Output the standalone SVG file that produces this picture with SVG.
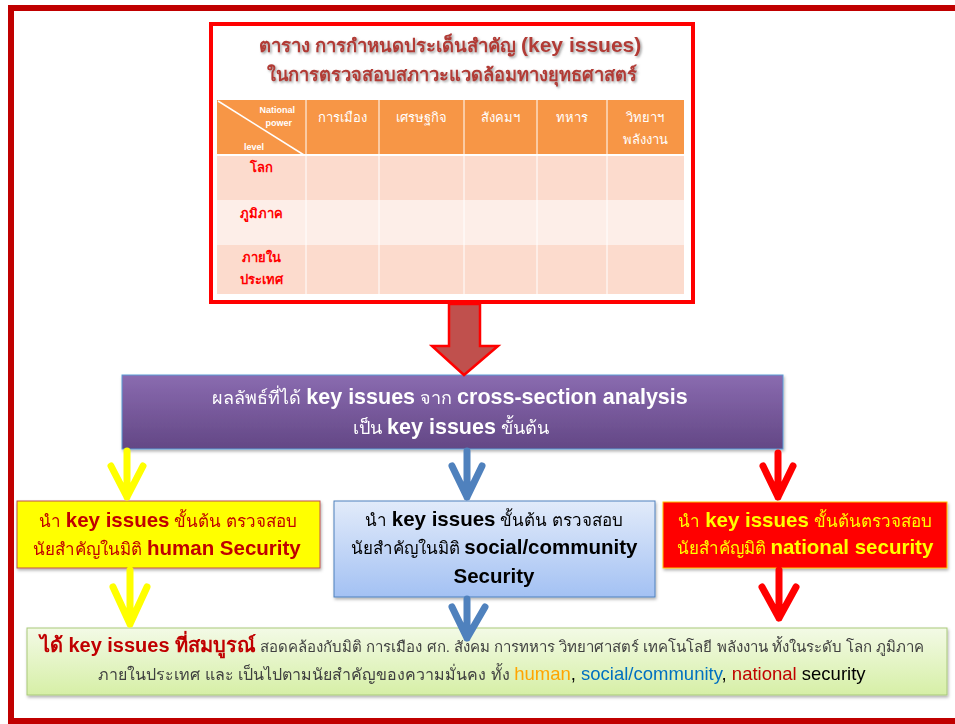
<svg xmlns="http://www.w3.org/2000/svg" width="955" height="724" viewBox="0 0 955 724">
<defs>
<style>
text{font-family:"Liberation Sans","Noto Sans","DejaVu Sans",sans-serif}
.hdr{fill:#ffffff;font-size:13px;text-anchor:middle}
.row{fill:#ff0000;font-size:13px;font-weight:bold;text-anchor:middle}
.sep{stroke:#ffffff;stroke-width:1}
.arr{fill:none;stroke-width:7;stroke-linecap:round;stroke-linejoin:round}
</style>
<filter id="ts" x="-5%" y="-20%" width="110%" height="150%">
<feDropShadow dx="1.5" dy="1.5" stdDeviation="0.8" flood-color="#777" flood-opacity="0.7"/>
</filter>
<filter id="bs" x="-5%" y="-10%" width="110%" height="130%">
<feDropShadow dx="1" dy="2" stdDeviation="1.5" flood-color="#000" flood-opacity="0.3"/>
</filter>
<linearGradient id="gp" x1="0" y1="0" x2="0" y2="1">
<stop offset="0" stop-color="#8A6BB0"/><stop offset="1" stop-color="#634785"/>
</linearGradient>
<linearGradient id="gb" x1="0" y1="0" x2="0" y2="1">
<stop offset="0" stop-color="#E2EBFA"/><stop offset="1" stop-color="#A3C1F3"/>
</linearGradient>
<linearGradient id="gg" x1="0" y1="0" x2="0" y2="1">
<stop offset="0" stop-color="#F3FAE6"/><stop offset="1" stop-color="#D6EFA6"/>
</linearGradient>
</defs>
<rect x="11" y="8" width="960" height="713" fill="#ffffff" stroke="#C00000" stroke-width="6"/>

<g id="table">
<rect x="211" y="24" width="482" height="278" fill="#ffffff" stroke="#ff0000" stroke-width="4"/>
<g filter="url(#ts)" fill="#B23B36" font-weight="bold" text-anchor="middle">
<text x="450" y="52" font-size="18.5">ตาราง การกำหนดประเด็นสำคัญ <tspan font-size="21">(key issues)</tspan></text>
<text x="452" y="81" font-size="18.3">ในการตรวจสอบสภาวะแวดล้อมทางยุทธศาสตร์</text>
</g>
<rect x="217" y="100" width="467" height="54" fill="#F79646"/>
<rect x="217" y="156" width="467" height="44" fill="#FCDBCD"/>
<rect x="217" y="200" width="467" height="45" fill="#FDEEE8"/>
<rect x="217" y="245" width="467" height="49" fill="#FCDBCD"/>
<line class="sep" x1="217" y1="155" x2="684" y2="155" stroke-width="2"/>
<line class="sep" x1="306" y1="100" x2="306" y2="294"/>
<line class="sep" x1="379" y1="100" x2="379" y2="294"/>
<line class="sep" x1="464" y1="100" x2="464" y2="294"/>
<line class="sep" x1="537" y1="100" x2="537" y2="294"/>
<line class="sep" x1="607" y1="100" x2="607" y2="294"/>
<line x1="218" y1="101" x2="304" y2="155" stroke="#ffffff" stroke-width="1.5"/>
<text x="295" y="113" fill="#ffffff" font-size="9" font-weight="bold" text-anchor="end">National</text>
<text x="292" y="126" fill="#ffffff" font-size="9" font-weight="bold" text-anchor="end">power</text>
<text x="254" y="150" fill="#ffffff" font-size="9" font-weight="bold" text-anchor="middle">level</text>
<text class="hdr" x="342" y="122">การเมือง</text>
<text class="hdr" x="421" y="122">เศรษฐกิจ</text>
<text class="hdr" x="500" y="122">สังคมฯ</text>
<text class="hdr" x="572" y="122">ทหาร</text>
<text class="hdr" x="645" y="122">วิทยาฯ</text>
<text class="hdr" x="645" y="144">พลังงาน</text>
<text class="row" x="261" y="172">โลก</text>
<text class="row" x="261" y="218">ภูมิภาค</text>
<text class="row" x="261" y="262">ภายใน</text>
<text class="row" x="261" y="284">ประเทศ</text>
</g>

<g id="purple" filter="url(#bs)">
<rect x="122" y="375" width="661" height="74" fill="url(#gp)" stroke="#5B9BD5" stroke-width="1"/>
<text x="450" y="404" fill="#ffffff" font-size="18" text-anchor="middle">ผลลัพธ์ที่ได้ <tspan font-size="21.5" font-weight="bold">key issues</tspan> จาก <tspan font-size="21.5" font-weight="bold">cross-section analysis</tspan></text>
<text x="451" y="434" fill="#ffffff" font-size="18" text-anchor="middle">เป็น <tspan font-size="21.5" font-weight="bold">key issues</tspan> ขั้นต้น</text>
</g>

<g id="human" filter="url(#bs)">
<rect x="17" y="501" width="303" height="67" fill="#FFFF00" stroke="#C0504D" stroke-width="1"/>
<text x="168" y="527" fill="#C00000" font-size="17" text-anchor="middle">นำ <tspan font-size="20.5" font-weight="bold">key issues</tspan> ขั้นต้น ตรวจสอบ</text>
<text x="167" y="555" fill="#C00000" font-size="17" text-anchor="middle">นัยสำคัญในมิติ <tspan font-size="20.5" font-weight="bold">human Security</tspan></text>
</g>

<g id="social" filter="url(#bs)">
<rect x="334" y="501" width="321" height="96" fill="url(#gb)" stroke="#4F81BD" stroke-width="1"/>
<text x="494" y="526" fill="#000000" font-size="17" text-anchor="middle">นำ <tspan font-size="20.5" font-weight="bold">key issues</tspan>  ขั้นต้น ตรวจสอบ</text>
<text x="494" y="554" fill="#000000" font-size="17" text-anchor="middle">นัยสำคัญในมิติ <tspan font-size="20.5" font-weight="bold">social/community</tspan></text>
<text x="494" y="583" fill="#000000" font-size="20.5" font-weight="bold" text-anchor="middle">Security</text>
</g>

<g id="national" filter="url(#bs)">
<rect x="663" y="502" width="284" height="66" fill="#FF0000" stroke="#FFC000" stroke-width="1"/>
<text x="805" y="527" fill="#FFFF00" font-size="17" text-anchor="middle">นำ <tspan font-size="20.5" font-weight="bold">key issues</tspan>  ขั้นต้นตรวจสอบ</text>
<text x="805" y="554" fill="#FFFF00" font-size="17" text-anchor="middle">นัยสำคัญมิติ <tspan font-size="20.5" font-weight="bold">national security</tspan></text>
</g>

<g id="result" filter="url(#bs)">
<rect x="27" y="628" width="920" height="67" fill="url(#gg)" stroke="#A9C97A" stroke-width="1"/>
<text x="482" y="652" fill="#404040" font-size="15" text-anchor="middle"><tspan fill="#C00000" font-size="20" font-weight="bold">ได้ key issues ที่สมบูรณ์</tspan> สอดคล้องกับมิติ การเมือง ศก. สังคม การทหาร วิทยาศาสตร์ เทคโนโลยี พลังงาน ทั้งในระดับ โลก ภูมิภาค</text>
<text x="482" y="680" fill="#404040" font-size="16" text-anchor="middle">ภายในประเทศ  และ  เป็นไปตามนัยสำคัญของความมั่นคง ทั้ง <tspan font-size="18.5" fill="#FFA500">human</tspan><tspan font-size="18.5" fill="#000000">, </tspan><tspan font-size="18.5" fill="#0070C0">social/community</tspan><tspan font-size="18.5" fill="#000000">,  </tspan><tspan font-size="18.5" fill="#C00000">national</tspan><tspan font-size="18.5" fill="#000000"> security</tspan></text>
</g>

<g id="connectors">
<path d="M449 304 H480 V346 H498 L464 375 L432 346 H449 Z" fill="#C0504D" stroke="#FF0000" stroke-width="2.5" stroke-linejoin="miter"/>
<path class="arr" stroke="#FFFF00" d="M127 451 V497 M111 466 L127 497 L143 466"/>
<path class="arr" stroke="#4F81BD" d="M467 451 V497 M452 466 L467 497 L482 466"/>
<path class="arr" stroke="#FF0000" d="M778 453 V497 M763 466 L778 497 L793 466"/>
<path class="arr" stroke="#FFFF00" d="M130 570 V624 M113 587 L130 624 L147 587"/>
<path class="arr" stroke="#4F81BD" d="M467 599 V638 M452 607 L467 638 L485 607"/>
<path class="arr" stroke="#FF0000" d="M779 570 V618 M762 587 L779 618 L796 587"/>
</g>
</svg>
